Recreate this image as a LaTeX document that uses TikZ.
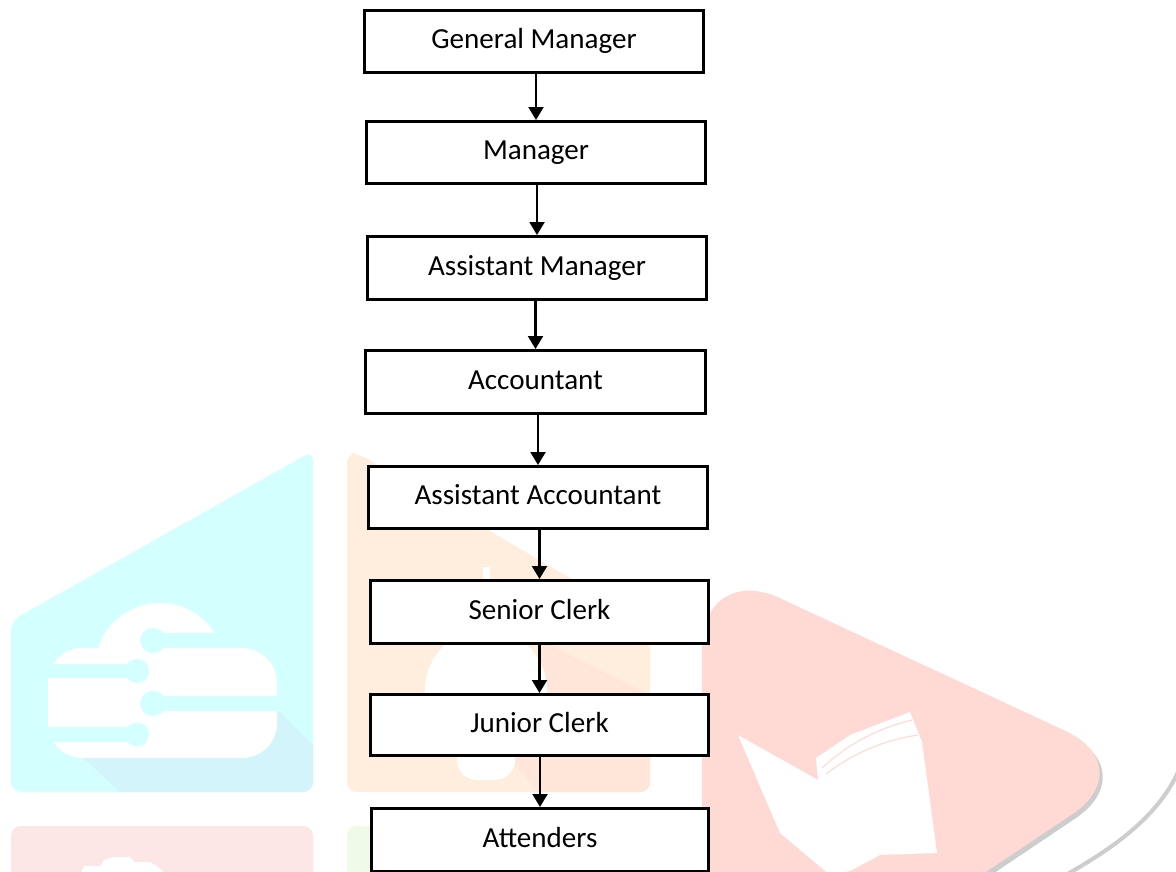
\documentclass[tikz,border=0pt]{standalone}
\usepackage{fontspec}
\setmainfont{Carlito}
\usetikzlibrary{arrows.meta}
\definecolor{wmcyan}{HTML}{D4FFFF}
\definecolor{wmcyansh}{HTML}{D3F4FB}
\definecolor{wmorange}{HTML}{FFEEDD}
\definecolor{wmorangesh}{HTML}{FFE6D8}
\definecolor{wmred}{HTML}{FFD9D3}
\definecolor{wmpink}{HTML}{FDE6E6}
\definecolor{wmgreen}{HTML}{EFFBE7}
\definecolor{wmgrey}{HTML}{CDCDCD}
\begin{document}
\begin{tikzpicture}[x=0.75pt,y=-0.75pt,
  box/.style={draw=black,line width=2.25pt,fill=white,inner sep=0pt,
    font=\fontsize{21.8pt}{26pt}\selectfont,text height=16.4pt,text depth=5.4pt},
  arr/.style={line width=1.6pt,-{Triangle[width=11.25pt,length=9.75pt]}}]
\useasboundingbox (0,0) rectangle (1176,871);
\clip (0,0) rectangle (1176,871);
\fill[white] (0,0) rectangle (1176,871);

% --- watermark: cyan cloud tile
\fill[wmcyan, rounded corners=7.5pt] (313,451) -- (313,792) -- (11,792) -- (11,621) -- cycle;
\begin{scope}
  \clip[rounded corners=7.5pt] (313,451) -- (313,792) -- (11,792) -- (11,621) -- cycle;
  \fill[wmcyansh] (80,755) -- (120,792) -- (320,792) -- (320,752) -- (277,709) -- (250,745) -- cycle;
\end{scope}
\fill[white, rounded corners=26pt] (48,648) rectangle (277,758);
\fill[white] (160,668) circle[radius=48.75pt];
\fill[wmcyan] (153,633) rectangle (232,648);
\fill[wmcyan] (153,640.5) circle[radius=9.5pt];
\fill[wmcyan] (40,664) rectangle (137,678);
\fill[wmcyan] (137,671) circle[radius=9pt];
\fill[wmcyan] (153,696) rectangle (285,711);
\fill[wmcyan] (153,703.5) circle[radius=9.5pt];
\fill[wmcyan] (40,727) rectangle (137,742);
\fill[wmcyan] (137,734.5) circle[radius=9pt];

% --- watermark: orange bulb tile
\fill[wmorange, rounded corners=7.5pt] (347,453) -- (357,453) -- (650,625) -- (650,792) -- (347,792) -- cycle;
\begin{scope}
  \clip[rounded corners=7.5pt] (347,453) -- (357,453) -- (650,625) -- (650,792) -- (347,792) -- cycle;
  \fill[wmorangesh] (540,640) -- (660,700) -- (660,800) -- (545,800) -- (515,765) -- cycle;
\end{scope}
\fill[white] (486,690) circle[radius=45.75pt];
\fill[white, rounded corners=15pt] (457,740) rectangle (515,780);
\fill[white] (483,567) rectangle (490,582);

% --- watermark: red book tile
\fill[wmgrey, rounded corners=64pt] (705,566) -- (1146,771) -- (872,955) -- (705,955) -- cycle;
\fill[wmred, rounded corners=64pt] (702,562) -- (1143,767) -- (869,950) -- (702,950) -- cycle;
\draw[wmgrey, line width=3pt] (1182,762) .. controls (1165,810) and (1120,845) .. (1062,877);
\fill[white] (738,735) -- (818,780) -- (816,758) -- (850,735) -- (910,712) -- (922,742)
  -- (937,853) -- (880,855) -- (850,871) -- (830,875) -- (780,833) -- cycle;
\draw[wmred, line width=0.8pt] (822,768) .. controls (850,742) and (880,728) .. (912,720);
\draw[wmred, line width=0.8pt] (826,774) .. controls (855,752) and (885,740) .. (918,735);

% --- watermark: lower tiles
\fill[wmpink, rounded corners=7.5pt] (11,826) rectangle (313,900);
\fill[white] (80,875) -- (84,866) -- (100,866) -- (104,860) -- (113,857) -- (130,857)
  -- (134,862) -- (150,862) -- (157,866) -- (167,875) -- cycle;
\fill[wmgreen, rounded corners=7.5pt] (347,826) rectangle (650,900);

% --- chart
\node[box, minimum width=254.25pt, minimum height=46.5pt]  (gm) at (534,41.5)   {General Manager};
\node[box, minimum width=254.25pt, minimum height=46.5pt]  (mg) at (536,152.5)  {Manager};
\node[box, minimum width=254.25pt, minimum height=47.25pt] (am) at (537,268)    {Assistant Manager};
\node[box, minimum width=255pt,    minimum height=47.25pt] (ac) at (535.5,382)  {Accountant};
\node[box, minimum width=254.25pt, minimum height=46.5pt]  (aa) at (538,497.5)  {Assistant Accountant};
\node[box, minimum width=253.5pt,  minimum height=47.25pt] (sc) at (539.5,612)  {Senior Clerk};
\node[box, minimum width=253.5pt,  minimum height=45.75pt] (jc) at (539.5,725)  {Junior Clerk};
\node[box, minimum width=252.75pt, minimum height=47.25pt] (at) at (540,840)    {Attenders};

\draw[arr] (mg.north |- gm.south) -- (mg.north);
\draw[arr] (am.north |- mg.south) -- (am.north);
\draw[arr] (ac.north |- am.south) -- (ac.north);
\draw[arr] (aa.north |- ac.south) -- (aa.north);
\draw[arr] (sc.north |- aa.south) -- (sc.north);
\draw[arr] (jc.north |- sc.south) -- (jc.north);
\draw[arr] (at.north |- jc.south) -- (at.north);
\end{tikzpicture}
\end{document}
